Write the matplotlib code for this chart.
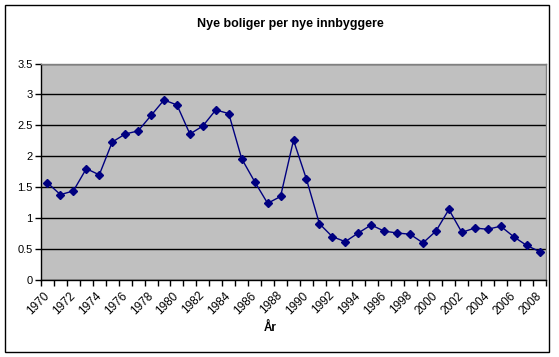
import numpy as np
import matplotlib
matplotlib.use('Agg')
import matplotlib.pyplot as plt
from matplotlib.patches import Rectangle

# data
aar = list(range(1970, 2009))
verdier = [1.57, 1.38, 1.44, 1.80, 1.70, 2.23, 2.36, 2.41, 2.66, 2.91,
           2.83, 2.36, 2.49, 2.75, 2.69, 1.96, 1.59, 1.24, 1.35, 2.26,
           1.63, 0.91, 0.70, 0.62, 0.76, 0.89, 0.79, 0.76, 0.74, 0.60,
           0.79, 1.14, 0.77, 0.84, 0.82, 0.87, 0.70, 0.56, 0.46]
y_ticks = [0, 0.5, 1, 1.5, 2, 2.5, 3, 3.5]
y_labels = ['0', '0.5', '1', '1.5', '2', '2.5', '3', '3.5']

plt.rcParams['font.family'] = ['Liberation Sans', 'DejaVu Sans']

fig = plt.figure(figsize=(5.59, 3.57), dpi=100)
fig.patch.set_facecolor('white')
fig.patches.append(Rectangle((5/559, 5/357), 544/559, 347/357, transform=fig.transFigure,
                             fill=False, edgecolor='black', linewidth=1.0))

ax = fig.add_axes([41/559, 77/357, 505/559, 216.5/357])
ax.set_facecolor('#C0C0C0')

x = np.arange(len(aar))
ax.plot(x, verdier, color='#000080', linewidth=1.0, marker='D', markersize=3.6,
        markerfacecolor='#000080', markeredgecolor='#000080')

ax.set_xlim(-0.5, len(aar) - 0.5)
ax.set_ylim(0, 3.5)

ax.set_yticks(y_ticks)
ax.set_yticklabels(y_labels, fontsize=8)
ax.yaxis.grid(True, color='black', linewidth=1.0)
ax.set_axisbelow(True)

# ticks at category boundaries, labels at every second category
ax.set_xticks(np.arange(len(aar) + 1) - 0.5)
ax.set_xticklabels([])
ax.set_xticks(x[::2], minor=True)
ax.set_xticklabels([str(a) for a in aar[::2]], minor=True, fontsize=8.5,
                   rotation=45, ha='right', va='center', rotation_mode='anchor')
ax.tick_params(axis='x', which='major', length=4, width=1, direction='out')
ax.tick_params(axis='x', which='minor', length=0, pad=10)
ax.tick_params(axis='y', length=4, width=1, direction='out', pad=2)

for s in ['top', 'right']:
    ax.spines[s].set_color('#808080')
    ax.spines[s].set_linewidth(1.0)
for s in ['left', 'bottom']:
    ax.spines[s].set_color('black')
    ax.spines[s].set_linewidth(1.0)

fig.text(0.52, 1 - 24/357, 'Nye boliger per nye innbyggere', ha='center', va='center',
         fontsize=9, fontweight='bold')
fig.text(270/559, 1 - 328/357, 'År', ha='center', va='center', fontsize=8.5, fontweight='bold')

fig.savefig('out.png', dpi=100)
